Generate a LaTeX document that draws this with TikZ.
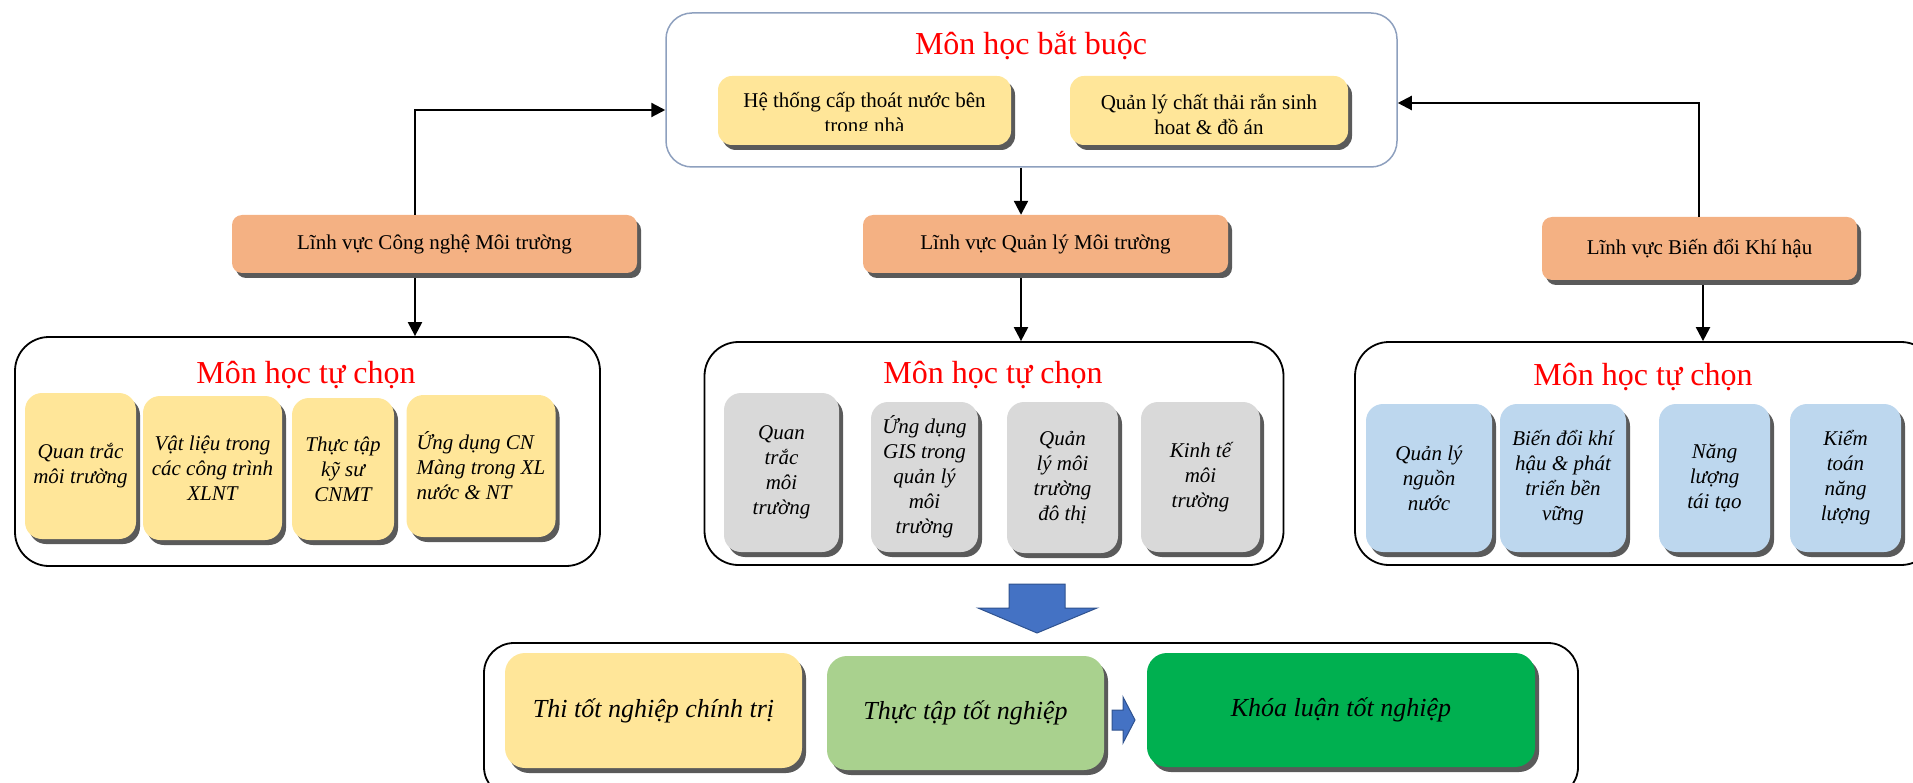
\documentclass[tikz,border=0pt]{standalone}
\usepackage{fontspec}
\setmainfont{Liberation Serif}
\usetikzlibrary{shadows,arrows.meta}
\definecolor{ylw}{HTML}{FFE699}
\definecolor{org}{HTML}{F4B183}
\definecolor{gry}{HTML}{D9D9D9}
\definecolor{blu}{HTML}{BDD7EE}
\definecolor{lgrn}{HTML}{A9D18E}
\definecolor{grn}{HTML}{00B050}
\definecolor{arrblue}{HTML}{4472C4}
\definecolor{arrborder}{HTML}{2F528F}
\definecolor{topborder}{HTML}{8EA0BE}
\definecolor{shadowc}{HTML}{5A5A5A}
\begin{document}
\begin{tikzpicture}[x=1pt,y=-1pt,
  shd/.style={drop shadow={shadow xshift=4pt,shadow yshift=-5pt,fill=shadowc,opacity=1}},
  cbox/.style={rounded corners=17pt, shd, inner sep=2pt, align=center,
    font=\fontsize{21}{25}\selectfont\itshape},
  tbox/.style={rounded corners=14pt, shd, fill=ylw, inner sep=0pt},
  tbtext/.style={inner sep=0pt, align=center, font=\fontsize{21}{25}\selectfont},
  orbox/.style={rounded corners=10pt, shd, fill=org, inner sep=0pt,
    font=\fontsize{21}{25}\selectfont},
  outbox/.style={draw=black, line width=1.8pt, rounded corners=34pt, inner sep=0pt},
  ttl/.style={text=red, font=\fontsize{32}{36}\selectfont, inner sep=0pt, anchor=base},
  bbox/.style={rounded corners=20pt, shd, inner sep=0pt,
    font=\fontsize{26}{30}\selectfont\itshape},
  arr/.style={draw=black, line width=2.2pt, -{Triangle[length=14pt,width=14pt]}},
  barr/.style={fill=arrblue, draw=arrborder, line width=1pt}
]
\useasboundingbox (0,0) rectangle (1913,783);

% ---------- top: compulsory ----------
\node[draw=topborder, line width=1.5pt, rounded corners=26pt, minimum width=731pt, minimum height=154pt] (top) at (1031.5,90) {};
\node[ttl] (toptitle) at (1031,55) {Môn học bắt buộc};
\node[tbox, minimum width=293pt, minimum height=69pt] (h1) at (864.5,110.5) {};
\coordinate (clipy) at (0,131);
\begin{scope}
  \clip (h1.north west) rectangle (h1.east |- clipy);
  \node[tbtext] (h1t) at (864.5,114.5) {Hệ thống cấp thoát nước bên\\trong nhà};
\end{scope}
\node[tbox, minimum width=278pt, minimum height=69pt] (h2) at (1209,110.5) {};
\node[tbtext] (h2t) at (1209,114.5) {Quản lý chất thải rắn sinh\\hoat \& đồ án};

% ---------- fields ----------
\node[orbox, minimum width=405pt, minimum height=58pt] (o1) at (434.5,244) {Lĩnh vực Công nghệ Môi trường};
\node[orbox, minimum width=365pt, minimum height=58pt] (o2) at (1045.5,244) {Lĩnh vực Quản lý Môi trường};
\node[orbox, minimum width=315pt, minimum height=63pt] (o3) at (1699.5,248.5) {Lĩnh vực Biến đổi Khí hậu};

% ---------- elective containers ----------
\node[outbox, minimum width=585pt, minimum height=229pt] (s1) at (307.5,451.5) {};
\node[outbox, minimum width=579pt, minimum height=223pt] (s2) at (994,453.5) {};
\node[outbox, minimum width=580pt, minimum height=223pt] (s3) at (1645,453.5) {};
\node[ttl] (t1) at (306,383) {Môn học tự chọn};
\node[ttl] (t2) at (993,383) {Môn học tự chọn};
\node[ttl] (t3) at (1643,385) {Môn học tự chọn};

% left electives
\node[cbox, fill=ylw, minimum width=111pt, minimum height=146pt] (l1) at (80.5,466) {Quan trắc\\môi trường};
\node[cbox, fill=ylw, minimum width=139pt, minimum height=144pt] (l2) at (212.5,468) {Vật liệu trong\\các công trình\\XLNT};
\node[cbox, fill=ylw, minimum width=102pt, minimum height=142pt] (l3) at (343,469) {Thực tập\\kỹ sư\\CNMT};
\node[cbox, fill=ylw, minimum width=149pt, minimum height=142pt, align=left] (l4) at (481,466) {Ứng dụng CN\\Màng trong XL\\nước \& NT};

% middle electives
\node[cbox, fill=gry, minimum width=115pt, minimum height=159pt] (m1) at (781.5,472.5) {Quan\\trắc\\môi\\trường};
\node[cbox, fill=gry, minimum width=107pt, minimum height=150pt] (m2) at (924.5,477) {Ứng dụng\\GIS trong\\quản lý\\môi\\trường};
\node[cbox, fill=gry, minimum width=111pt, minimum height=151pt] (m3) at (1062.5,477.5) {Quản\\lý môi\\trường\\đô thị};
\node[cbox, fill=gry, minimum width=119pt, minimum height=150pt] (m4) at (1200.5,477) {Kinh tế\\môi\\trường};

% right electives
\node[cbox, fill=blu, minimum width=126pt, minimum height=148pt] (r1) at (1429,478) {Quản lý\\nguồn\\nước};
\node[cbox, fill=blu, minimum width=126pt, minimum height=148pt] (r2) at (1563,478) {Biến đổi khí\\hậu \& phát\\triển bền\\vững};
\node[cbox, fill=blu, minimum width=111pt, minimum height=148pt] (r3) at (1714.5,478) {Năng\\lượng\\tái tạo};
\node[cbox, fill=blu, minimum width=111pt, minimum height=148pt] (r4) at (1845.5,478) {Kiểm\\toán\\năng\\lượng};

% ---------- connectors ----------
\coordinate (c1) at (415,110);
\coordinate (c2) at (1021,0);
\coordinate (c3) at (1699,103);
\coordinate (c4) at (1703,0);
\draw[arr] (o1.north -| c1) |- (top.west |- c1);
\draw[arr] (o3.north -| c3) |- (top.east |- c3);
\draw[arr] (top.south -| c2) -- (o2.north -| c2);
\draw[arr] ([yshift=-5pt]o1.south -| c1) -- (s1.north -| c1);
\draw[arr] ([yshift=-5pt]o2.south -| c2) -- (s2.north -| c2);
\draw[arr] ([yshift=-5pt]o3.south -| c4) -- (s3.north -| c4);

% ---------- big arrow ----------
\draw[barr] (1009,584) -- (1065,584) -- (1065,608) -- (1097,608) -- (1037,633) -- (978,608) -- (1009,608) -- cycle;

% ---------- graduation ----------
\node[outbox, rounded corners=30pt, minimum width=1094pt, minimum height=154pt] (bot) at (1031,720) {};
\node[bbox, fill=ylw, minimum width=297pt, minimum height=115pt] (b1) at (653.5,710.5) {Thi tốt nghiệp chính trị};
\node[bbox, fill=lgrn, minimum width=277pt, minimum height=114pt] (b2) at (965.5,713) {Thực tập tốt nghiệp};
\node[bbox, fill=grn, minimum width=388pt, minimum height=114pt] (b3) at (1341,710) {Khóa luận tốt nghiệp};
\draw[barr] (1112,710) -- (1123,710) -- (1123,697) -- (1135,720) -- (1123,743) -- (1123,730) -- (1112,730) -- cycle;
\end{tikzpicture}
\end{document}
